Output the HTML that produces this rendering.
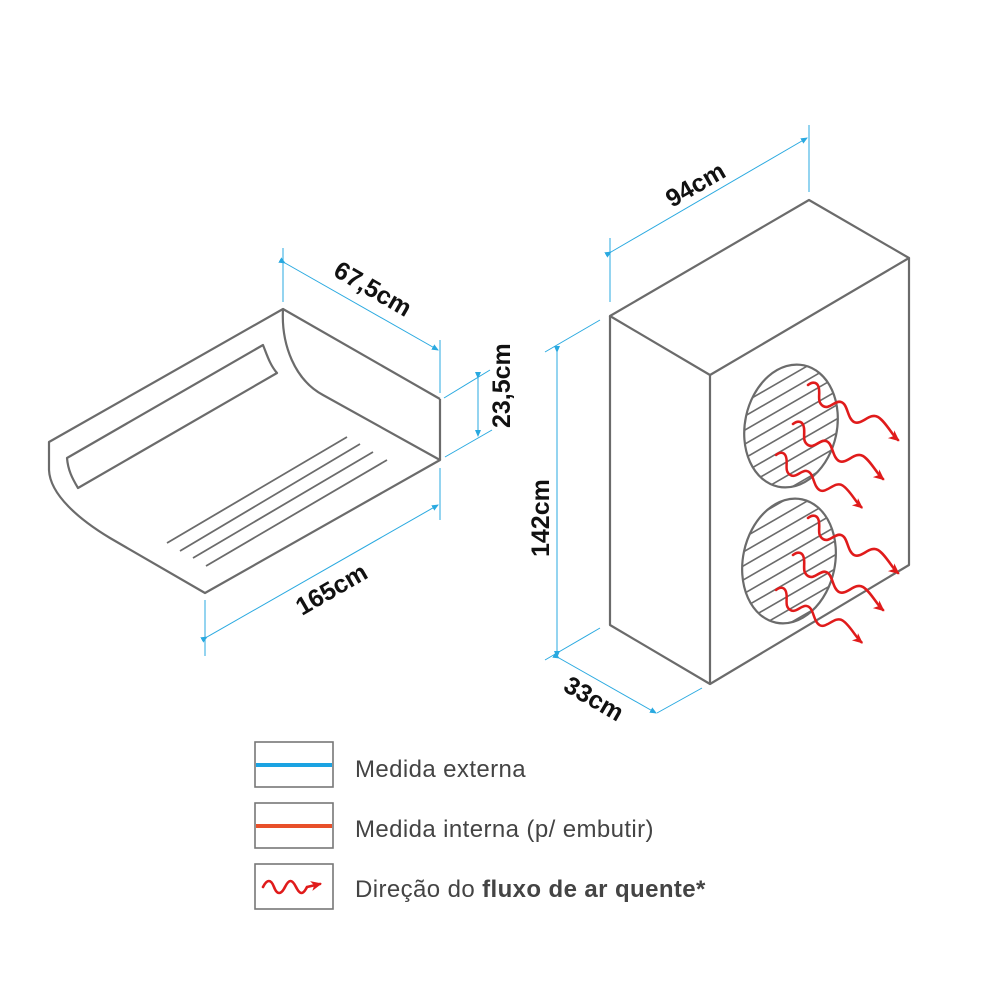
<!DOCTYPE html>
<html><head><meta charset="utf-8"><style>
html,body{margin:0;padding:0;background:#fff;}
svg{display:block;}
.g{fill:none;stroke:#6b6b6b;stroke-width:2.2;stroke-linejoin:round;}
.d{fill:none;stroke:#29a9e0;stroke-width:1;}
.t{font-family:"Liberation Sans",sans-serif;font-weight:bold;font-size:25px;fill:#111;}
.l{font-family:"Liberation Sans",sans-serif;font-size:24px;fill:#444;letter-spacing:0.4px;}
.w{fill:none;stroke:#e01b1b;stroke-width:2.6;stroke-linecap:round;}
</style></head><body>
<svg width="1000" height="1000" viewBox="0 0 1000 1000">
<defs>
<marker id="ab" markerWidth="8" markerHeight="8" refX="6" refY="4" orient="auto" markerUnits="userSpaceOnUse"><path d="M0,1 L7,4 L0,7 Z" fill="#29a9e0"/></marker>
<marker id="ar" markerWidth="12" markerHeight="12" refX="9" refY="6" orient="auto" markerUnits="userSpaceOnUse"><path d="M0,1 L11,6 L0,11 L3,6 Z" fill="#e01b1b"/></marker>
<clipPath id="c1"><ellipse cx="791" cy="426" rx="46" ry="62" transform="rotate(12 791 426)"/></clipPath>
<clipPath id="c2"><ellipse cx="789" cy="561" rx="46" ry="63" transform="rotate(12 789 561)"/></clipPath>
<path id="wv" d="M0,0 c5,-4 10,-3 11,4 c1,7 -2,13 4,17 c6,4 12,-6 18,-4 c7,2 6,16 13,20 c7,4 16,-10 24,-5 c8,5 14,18 20,23"/>
</defs>

<path class="g" d="M49,442 L283,309 C281,345 295,380 323,395 L440,460 L205,593 L110,538 C80,520 50,495 49,470 Z"/>
<path class="g" d="M440,399 L440,460"/>
<path class="g" d="M283,309 L440,399"/>
<path class="g" d="M67,458 L263,345 C267,355 270,365 277,373 L78,488 C72,478 68,470 67,458 Z"/>
<path class="g" style="stroke-width:1.8" d="M167,543 L347,437 M180,551 L360,444 M193,558 L373,452 M206,566 L387,460"/>

<path class="d" d="M283,248 L283,302 M440,340 L440,393 M444,398 L490,370 M445,457 L492,430 M205,600 L205,656 M440,468 L440,520"/>
<path class="d" d="M285,263 L438,350" marker-start="url(#ab)" marker-end="url(#ab)"/>
<path class="d" d="M478,378 L478,436" marker-start="url(#ab)" marker-end="url(#ab)"/>
<path class="d" d="M207,637 L438,505" marker-start="url(#ab)" marker-end="url(#ab)"/>
<text class="t" transform="translate(332,275) rotate(30)">67,5cm</text>
<text class="t" transform="translate(510,428) rotate(-90)">23,5cm</text>
<text class="t" transform="translate(302,616) rotate(-30)">165cm</text>

<path class="g" d="M610,316 L809,200 L909,258 L710,375 Z"/>
<path class="g" d="M610,316 L610,625 L710,684 L710,375 M710,684 L909,565 L909,258"/>
<g clip-path="url(#c1)" stroke="#6b6b6b" stroke-width="1.6">
<path d="M700,400 L880,296 M700,414 L880,310 M700,428 L880,324 M700,442 L880,338 M700,456 L880,352 M700,470 L880,366 M700,484 L880,380 M700,498 L880,394 M700,512 L880,408 M700,526 L880,422 M700,540 L880,436 M700,554 L880,450 M700,568 L880,464"/>
</g>
<ellipse class="g" cx="791" cy="426" rx="46" ry="62" transform="rotate(12 791 426)"/>
<g clip-path="url(#c2)" stroke="#6b6b6b" stroke-width="1.6">
<path d="M700,535 L880,431 M700,549 L880,445 M700,563 L880,459 M700,577 L880,473 M700,591 L880,487 M700,605 L880,501 M700,619 L880,515 M700,633 L880,529 M700,647 L880,543 M700,661 L880,557 M700,675 L880,571 M700,689 L880,585 M700,703 L880,599"/>
</g>
<ellipse class="g" cx="789" cy="561" rx="46" ry="63" transform="rotate(12 789 561)"/>
<use href="#wv" class="w" marker-end="url(#ar)" transform="translate(808,385)"/>
<use href="#wv" class="w" marker-end="url(#ar)" transform="translate(793,424)"/>
<use href="#wv" class="w" marker-end="url(#ar)" transform="translate(776,455) scale(0.95)"/>
<use href="#wv" class="w" marker-end="url(#ar)" transform="translate(808,518)"/>
<use href="#wv" class="w" marker-end="url(#ar)" transform="translate(793,555)"/>
<use href="#wv" class="w" marker-end="url(#ar)" transform="translate(776,590) scale(0.95)"/>

<path class="d" d="M610,238 L610,302 M809,125 L809,192 M545,352 L600,320 M545,660 L600,628 M657,713 L702,688"/>
<path class="d" d="M611,252 L807,138" marker-start="url(#ab)" marker-end="url(#ab)"/>
<path class="d" d="M557,352 L557,657" marker-start="url(#ab)" marker-end="url(#ab)"/>
<path class="d" d="M559,658 L656,713" marker-start="url(#ab)" marker-end="url(#ab)"/>
<text class="t" transform="translate(672,208) rotate(-30)">94cm</text>
<text class="t" transform="translate(549,557) rotate(-90)">142cm</text>
<text class="t" transform="translate(562,690) rotate(30)">33cm</text>

<rect x="255" y="742" width="78" height="45" fill="none" stroke="#777" stroke-width="1.6"/>
<line x1="256" y1="765" x2="332" y2="765" stroke="#1ba3e2" stroke-width="4"/>
<rect x="255" y="803" width="78" height="45" fill="none" stroke="#777" stroke-width="1.6"/>
<line x1="256" y1="826" x2="332" y2="826" stroke="#e8502a" stroke-width="4"/>
<rect x="255" y="864" width="78" height="45" fill="none" stroke="#777" stroke-width="1.6"/>
<path class="w" d="M263,887 c4,-8 8,-8 11,0 s7,8 11,0 s7,-8 11,0 s7,8 11,0 L320,884" marker-end="url(#ar)"/>
<text class="l" x="355" y="777">Medida externa</text>
<text class="l" x="355" y="837">Medida interna (p/ embutir)</text>
<text class="l" x="355" y="897">Direção do <tspan font-weight="bold">fluxo de ar quente*</tspan></text>
</svg>
</body></html>
